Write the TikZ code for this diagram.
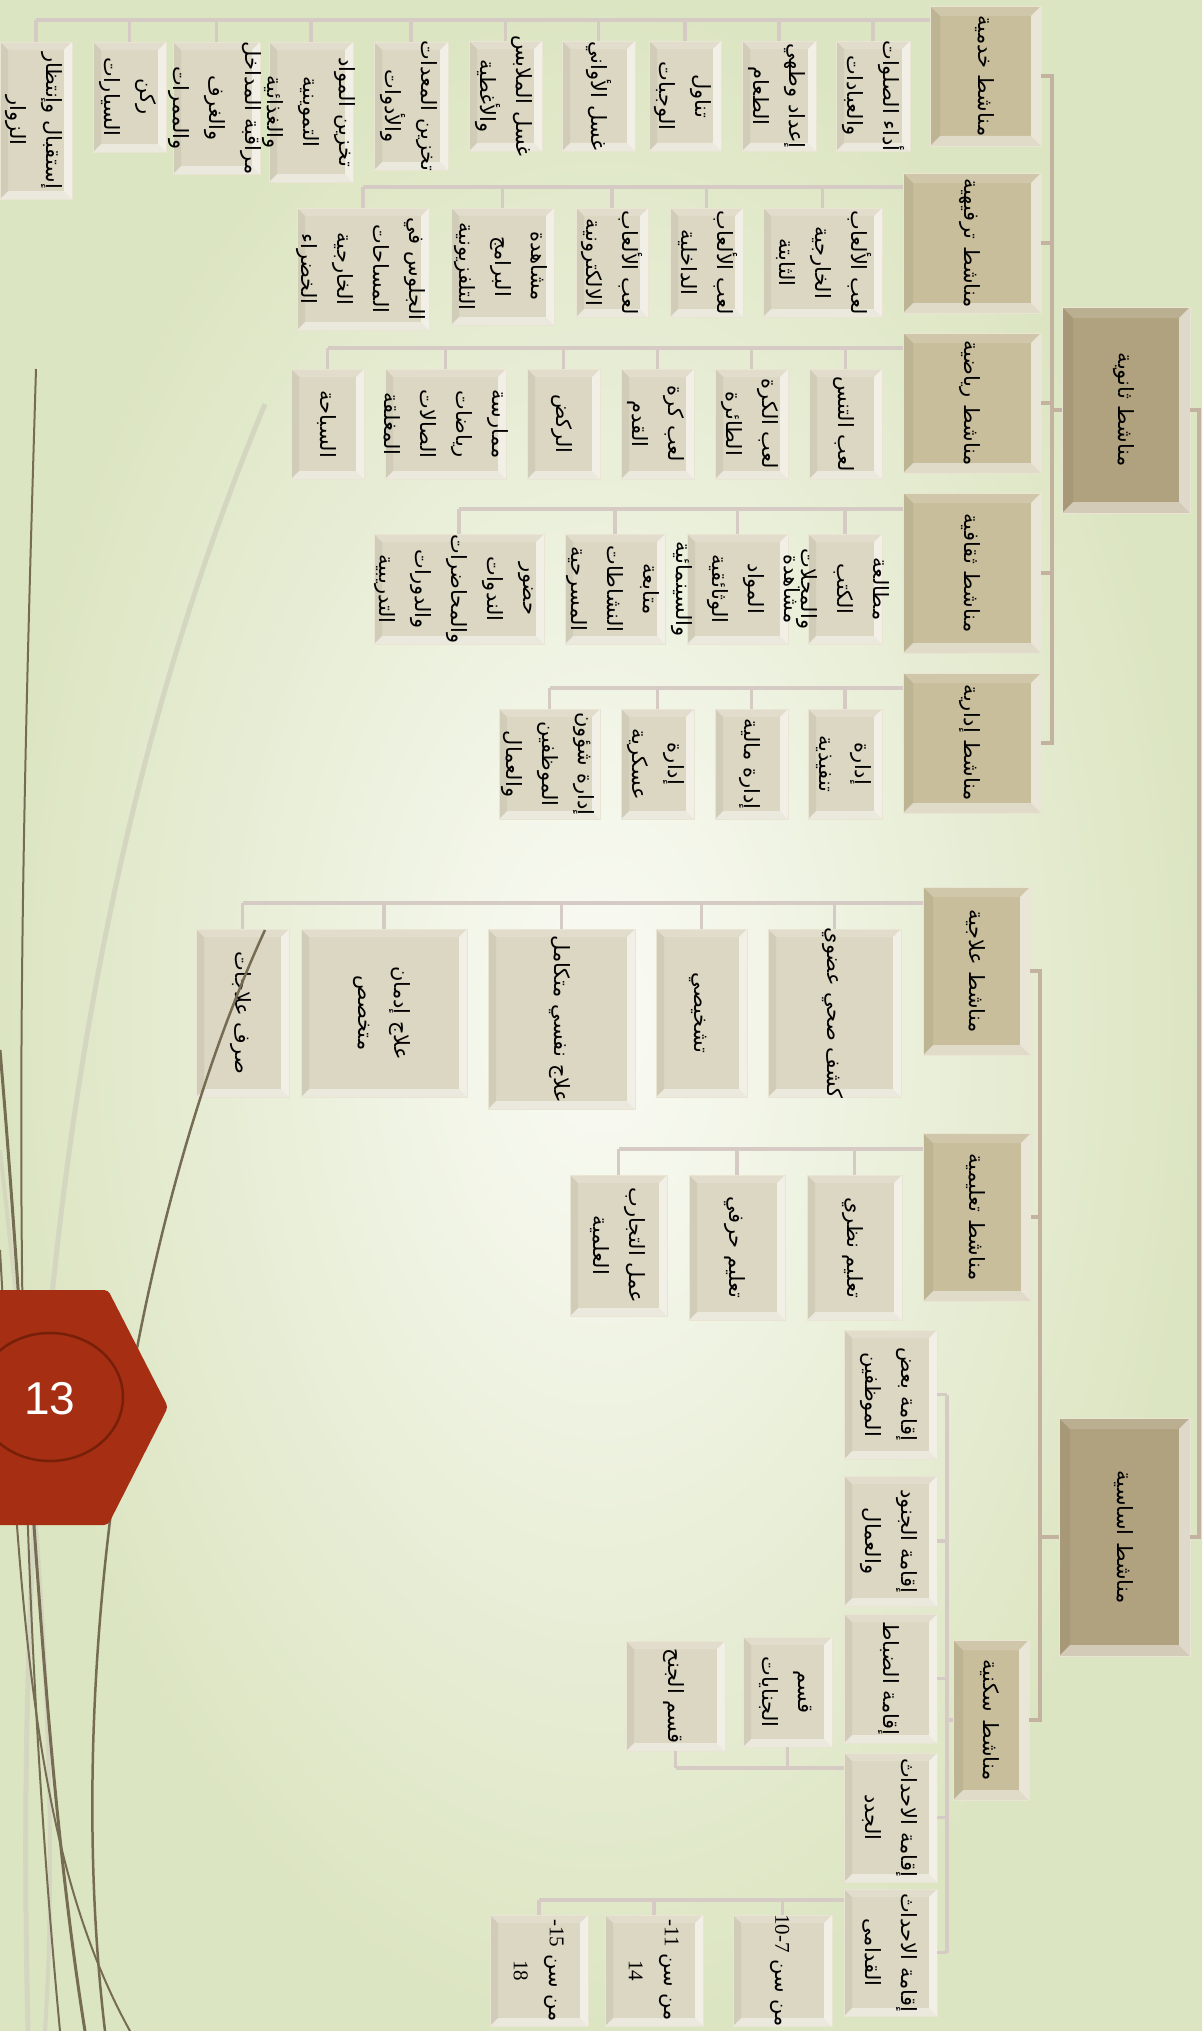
\documentclass[tikz,border=0pt]{standalone}
\usepackage{fontspec}
\usepackage{graphicx}
\setmainfont{Liberation Serif}
\newfontfamily\arabicfont[Script=Arabic]{DejaVu Sans}
\newfontfamily\badgefont{Liberation Sans}
\TeXXeTstate=1
\definecolor{topbox}{RGB}{176,162,127}
\definecolor{midbox}{RGB}{200,190,156}
\definecolor{leafbox}{RGB}{220,215,194}
\definecolor{boxedge}{RGB}{234,229,210}
\definecolor{busline}{RGB}{214,202,196}
\definecolor{trunkline}{RGB}{196,178,160}
\definecolor{bginner}{RGB}{250,251,245}
\definecolor{bgouter}{RGB}{220,229,194}
\definecolor{badge}{RGB}{166,46,18}
\definecolor{badgering}{RGB}{118,32,10}
\definecolor{wispdark}{RGB}{118,108,84}
\definecolor{wisplight}{RGB}{212,214,192}
\newcommand{\ar}[1]{\beginR #1\endR}
\newcommand{\vtext}[1]{\makebox[0pt]{\smash{\raisebox{\dimexpr(\depth-\height)/2\relax}{\rotatebox{-90}{\begin{tabular}{@{}c@{}}#1\end{tabular}}}}}}
\tikzset{
  bevel/.style={path picture={
    \coordinate (pnw) at (path picture bounding box.north west);
    \coordinate (pne) at (path picture bounding box.north east);
    \coordinate (psw) at (path picture bounding box.south west);
    \coordinate (pse) at (path picture bounding box.south east);
    \fill[white, opacity=.6] (pne) -- (pse) -- ([xshift=-#1,yshift=#1]pse) -- ([xshift=-#1,yshift=-#1]pne) -- cycle;
    \fill[white, opacity=.45] (psw) -- (pse) -- ([xshift=-#1,yshift=#1]pse) -- ([xshift=#1,yshift=#1]psw) -- cycle;
    \fill[white, opacity=.15] (pnw) -- (pne) -- ([xshift=-#1,yshift=-#1]pne) -- ([xshift=#1,yshift=-#1]pnw) -- cycle;
    \fill[black, opacity=.05] (pnw) -- (psw) -- ([xshift=#1,yshift=#1]psw) -- ([xshift=#1,yshift=-#1]pnw) -- cycle;
  }},
  box/.style={rectangle, draw=boxedge, line width=0.8pt, inner sep=0pt, font=\arabicfont\fontsize{21}{36}\selectfont},
  topnode/.style={box, fill=topbox, bevel=11pt},
  midnode/.style={box, fill=midbox, bevel=10pt},
  leaf/.style={box, fill=leafbox, bevel=8pt},
  bus/.style={draw=busline, line width=3.5pt},
  trunk/.style={draw=trunkline, line width=4pt},
}
\begin{document}
\begin{tikzpicture}[x=1pt, y=-1pt]
\useasboundingbox (0,0) rectangle (1202,2031);
\shade[inner color=bginner, outer color=bgouter] (0,0) rectangle (1202,2031);

\node[topnode, minimum width=128, minimum height=206] (thanawiya) at (1126,410) {\vtext{\ar{مناشط ثانوية}}};
\node[topnode, minimum width=131, minimum height=238] (asasiya) at (1124.5,1537) {\vtext{\ar{مناشط اساسية}}};

\node[midnode, minimum width=111, minimum height=140] (khadamiya) at (985.5,76) {\vtext{\ar{مناشط خدمية}}};
\node[midnode, minimum width=138, minimum height=140] (tarfihiya) at (972,243) {\vtext{\ar{مناشط ترفيهية}}};
\node[midnode, minimum width=138, minimum height=140] (riyadiya) at (972,403) {\vtext{\ar{مناشط رياضية}}};
\node[midnode, minimum width=138, minimum height=160] (thaqafiya) at (972,573) {\vtext{\ar{مناشط ثقافية}}};
\node[midnode, minimum width=138, minimum height=140] (idariya) at (972,743) {\vtext{\ar{مناشط إدارية}}};
\node[midnode, minimum width=107, minimum height=168] (ilajiya) at (976.5,971) {\vtext{\ar{مناشط علاجية}}};
\node[midnode, minimum width=108, minimum height=168] (talimiya) at (977,1217) {\vtext{\ar{مناشط تعليمية}}};
\node[midnode, minimum width=76, minimum height=160] (sakaniya) at (991,1720) {\vtext{\ar{مناشط سكنية}}};

\node[leaf, minimum width=74, minimum height=110] (k1) at (873,96) {\vtext{\ar{أداء الصلوات}\\\ar{والعبادات}}};
\node[leaf, minimum width=74, minimum height=110] (k2) at (779,96) {\vtext{\ar{إعداد وطهي}\\\ar{الطعام}}};
\node[leaf, minimum width=72, minimum height=110] (k3) at (685,96) {\vtext{\ar{تناول}\\\ar{الوجبات}}};
\node[leaf, minimum width=73, minimum height=110] (k4) at (598.5,96) {\vtext{\ar{غسل الأواني}}};
\node[leaf, minimum width=73, minimum height=110] (k5) at (505.5,96) {\vtext{\ar{غسل الملابس}\\\ar{والأغطية}}};
\node[leaf, minimum width=74, minimum height=128] (k6) at (411,106) {\vtext{\ar{تخزين المعدات}\\\ar{والأدوات}}};
\node[leaf, minimum width=84, minimum height=140] (k7) at (311,112) {\vtext{\ar{تخزين المواد}\\\ar{التموينية}\\\ar{والغذائية}}};
\node[leaf, minimum width=87, minimum height=132] (k8) at (216.5,108) {\vtext{\ar{مراقبة المداخل}\\\ar{والغرف}\\\ar{والممرات}}};
\node[leaf, minimum width=73, minimum height=110] (k9) at (129.5,97) {\vtext{\ar{ركن}\\\ar{السيارات}}};
\node[leaf, minimum width=72, minimum height=157] (k10) at (36,120.5) {\vtext{\ar{إستقبال وإنتظار}\\\ar{الزوار}}};

\node[leaf, minimum width=119, minimum height=109] (t1) at (822.5,262.5) {\vtext{\ar{لعب الألعاب}\\\ar{الخارجية}\\\ar{الثابتة}}};
\node[leaf, minimum width=73, minimum height=109] (t2) at (706.5,262.5) {\vtext{\ar{لعب الألعاب}\\\ar{الداخلية}}};
\node[leaf, minimum width=72, minimum height=109] (t3) at (612,262.5) {\vtext{\ar{لعب الألعاب}\\\ar{الالكترونية}}};
\node[leaf, minimum width=103, minimum height=117] (t4) at (502.5,266.5) {\vtext{\ar{مشاهدة}\\\ar{البرامج}\\\ar{التلفزيونية}}};
\node[leaf, minimum width=132, minimum height=122] (t5) at (363,269) {\vtext{\ar{الجلوس في}\\\ar{المساحات}\\\ar{الخارجية}\\\ar{الخضراء}}};

\node[leaf, minimum width=73, minimum height=110] (r1) at (845.5,424) {\vtext{\ar{لعب التنس}}};
\node[leaf, minimum width=73, minimum height=110] (r2) at (751.5,424) {\vtext{\ar{لعب الكرة}\\\ar{الطائرة}}};
\node[leaf, minimum width=73, minimum height=110] (r3) at (657.5,424) {\vtext{\ar{لعب كرة}\\\ar{القدم}}};
\node[leaf, minimum width=73, minimum height=110] (r4) at (563.5,424) {\vtext{\ar{الركض}}};
\node[leaf, minimum width=121, minimum height=110] (r5) at (445.5,424) {\vtext{\ar{ممارسة}\\\ar{رياضات}\\\ar{الصالات}\\\ar{المغلقة}}};
\node[leaf, minimum width=73, minimum height=110] (r6) at (327.5,424) {\vtext{\ar{السباحة}}};

\node[leaf, minimum width=74, minimum height=110] (q1) at (845,589) {\vtext{\ar{مطالعة}\\\ar{الكتب}\\\ar{والمجلات}}};
\node[leaf, minimum width=101, minimum height=110] (q2) at (737.5,589) {\vtext{\ar{مشاهدة}\\\ar{المواد}\\\ar{الوثائقية}\\\ar{والسينمائية}}};
\node[leaf, minimum width=100, minimum height=110] (q3) at (615,589) {\vtext{\ar{متابعة}\\\ar{النشاطات}\\\ar{المسرحية}}};
\node[leaf, minimum width=170, minimum height=110] (q4) at (459,589) {\vtext{\ar{حضور}\\\ar{الندوات}\\\ar{والمحاضرات}\\\ar{والدورات}\\\ar{التدريبية}}};

\node[leaf, minimum width=74, minimum height=110] (d1) at (845,764) {\vtext{\ar{إدارة}\\\ar{تنفيذية}}};
\node[leaf, minimum width=73, minimum height=110] (d2) at (751.5,764) {\vtext{\ar{إدارة مالية}}};
\node[leaf, minimum width=73, minimum height=110] (d3) at (657.5,764) {\vtext{\ar{إدارة}\\\ar{عسكرية}}};
\node[leaf, minimum width=101, minimum height=110] (d4) at (549.5,764) {\vtext{\ar{إدارة شؤون}\\\ar{الموظفين}\\\ar{والعمال}}};

\node[leaf, minimum width=133, minimum height=168] (i1) at (834.5,1013) {\vtext{\ar{كشف صحي عضوي}}};
\node[leaf, minimum width=91, minimum height=168] (i2) at (701.5,1013) {\vtext{\ar{تشخيصي}}};
\node[leaf, minimum width=147, minimum height=180] (i3) at (561.5,1019) {\vtext{\ar{علاج نفسي متكامل}}};
\node[leaf, minimum width=166, minimum height=168] (i4) at (384,1013) {\vtext{\ar{علاج إدمان}\\\ar{متخصص}}};
\node[leaf, minimum width=93, minimum height=168] (i5) at (242.5,1013) {\vtext{\ar{صرف علاجات}}};

\node[leaf, minimum width=95, minimum height=145] (e1) at (854.5,1247.5) {\vtext{\ar{تعليم نظري}}};
\node[leaf, minimum width=96, minimum height=145] (e2) at (737,1247.5) {\vtext{\ar{تعليم حرفي}}};
\node[leaf, minimum width=97, minimum height=141] (e3) at (618.5,1245.5) {\vtext{\ar{عمل التجارب}\\\ar{العلمية}}};

\node[leaf, minimum width=93, minimum height=129] (s1) at (890.5,1394.5) {\vtext{\ar{إقامة بعض}\\\ar{الموظفين}}};
\node[leaf, minimum width=93, minimum height=130] (s2) at (890.5,1541) {\vtext{\ar{إقامة الجنود}\\\ar{والعمال}}};
\node[leaf, minimum width=93, minimum height=129] (s3) at (890.5,1678.5) {\vtext{\ar{إقامة الضباط}}};
\node[leaf, minimum width=93, minimum height=129] (s4) at (890.5,1817.5) {\vtext{\ar{إقامة الاحداث}\\\ar{الجدد}}};
\node[leaf, minimum width=93, minimum height=127] (s5) at (890.5,1952.5) {\vtext{\ar{إقامة الاحداث}\\\ar{القدامى}}};

\node[leaf, minimum width=89, minimum height=110] (j1) at (787.5,1692) {\vtext{\ar{قسم}\\\ar{الجنايات}}};
\node[leaf, minimum width=99, minimum height=110] (j2) at (675.5,1696) {\vtext{\ar{قسم الجنح}}};

\node[leaf, minimum width=99, minimum height=111] (a1) at (782.5,1970.5) {\vtext{\ar{من سن \beginL{\rmfamily 10-7}\endL}}};
\node[leaf, minimum width=98, minimum height=111] (a2) at (654,1970.5) {\vtext{\ar{من سن \beginL{\rmfamily -11}\endL}\\{\rmfamily 14}}};
\node[leaf, minimum width=98, minimum height=111] (a3) at (539,1970.5) {\vtext{\ar{من سن \beginL{\rmfamily -15}\endL}\\{\rmfamily 18}}};

\coordinate (rbus) at (1199,0);
\coordinate (sbus) at (1052,0);
\coordinate (ebus) at (1040,0);
\coordinate (kbus) at (0,20);
\coordinate (tbus) at (0,187);
\coordinate (rybus) at (0,348);
\coordinate (qbus) at (0,509);
\coordinate (dbus) at (0,688);
\coordinate (ibus) at (0,903);
\coordinate (ebusy) at (0,1149);
\coordinate (hbus) at (947,0);
\coordinate (jbus) at (0,1768);
\coordinate (abus) at (0,1900);

\draw[trunk] (thanawiya.east) -- (thanawiya.east -| rbus) -- (asasiya.east -| rbus) -- (asasiya.east);
\draw[trunk] (khadamiya.east) -- (khadamiya.east -| sbus) -- (idariya.east -| sbus) -- (idariya.east);
\foreach \n in {tarfihiya,riyadiya,thaqafiya}{
  \draw[trunk] (\n.east) -- (\n.east -| sbus);
}
\draw[trunk] (thanawiya.west) -- (thanawiya.west -| sbus);
\draw[trunk] (ilajiya.east) -- (ilajiya.east -| ebus) -- (sakaniya.east -| ebus) -- (sakaniya.east);
\draw[trunk] (talimiya.east) -- (talimiya.east -| ebus);
\draw[trunk] (asasiya.west) -- (asasiya.west -| ebus);

\draw[bus] (khadamiya.west |- kbus) -- (k10.north |- kbus);
\foreach \i in {1,...,10}{
  \draw[bus] (k\i.north) -- (k\i.north |- kbus);
}
\draw[bus] (tarfihiya.west |- tbus) -- (t5.north |- tbus);
\foreach \i in {1,...,5}{
  \draw[bus] (t\i.north) -- (t\i.north |- tbus);
}
\draw[bus] (riyadiya.west |- rybus) -- (r6.north |- rybus);
\foreach \i in {1,...,6}{
  \draw[bus] (r\i.north) -- (r\i.north |- rybus);
}
\draw[bus] (thaqafiya.west |- qbus) -- (q4.north |- qbus);
\foreach \i in {1,...,4}{
  \draw[bus] (q\i.north) -- (q\i.north |- qbus);
}
\draw[bus] (idariya.west |- dbus) -- (d4.north |- dbus);
\foreach \i in {1,...,4}{
  \draw[bus] (d\i.north) -- (d\i.north |- dbus);
}
\draw[bus] (ilajiya.west |- ibus) -- (i5.north |- ibus);
\foreach \i in {1,...,5}{
  \draw[bus] (i\i.north) -- (i\i.north |- ibus);
}
\draw[bus] (talimiya.west |- ebusy) -- (e3.north |- ebusy);
\foreach \i in {1,...,3}{
  \draw[bus] (e\i.north) -- (e\i.north |- ebusy);
}
\draw[bus] (sakaniya.west) -- (sakaniya.west -| hbus);
\draw[bus] (s1.east -| hbus) -- (s5.east -| hbus);
\foreach \i in {1,...,5}{
  \draw[bus] (s\i.east) -- (s\i.east -| hbus);
}
\draw[bus] (s4.west |- jbus) -- (j2.south |- jbus);
\foreach \i in {1,2}{
  \draw[bus] (j\i.south) -- (j\i.south |- jbus);
}
\draw[bus] (s5.west |- abus) -- (a3.north |- abus);
\foreach \i in {1,...,3}{
  \draw[bus] (a\i.north) -- (a\i.north |- abus);
}

\draw[wisplight, line width=5pt] (265,404) .. controls (100,800) and (10,1300) .. (28,2031);
\draw[wisplight, line width=4pt] (0,1150) .. controls (40,1500) and (60,1800) .. (45,2031);
\draw[wispdark, line width=2pt] (36,369) .. controls (20,900) and (5,1450) .. (60,2031);
\draw[wispdark, line width=2.5pt] (265,930) .. controls (140,1200) and (60,1650) .. (105,2031);
\draw[wispdark, line width=3pt] (0,1050) .. controls (30,1400) and (40,1750) .. (85,2031);
\draw[wispdark, line width=2pt] (0,1250) .. controls (20,1600) and (30,1850) .. (130,2031);

\fill[badge, rounded corners=4pt] (-20,1290) -- (108,1290) -- (168,1407) -- (108,1525) -- (-20,1525) -- cycle;
\draw[badgering, line width=2.5pt] (50,1397) ellipse [x radius=73, y radius=64];
\node[text=white, font=\badgefont\fontsize{46}{46}\selectfont] (num) at (50,1399) {13};
\end{tikzpicture}
\end{document}
